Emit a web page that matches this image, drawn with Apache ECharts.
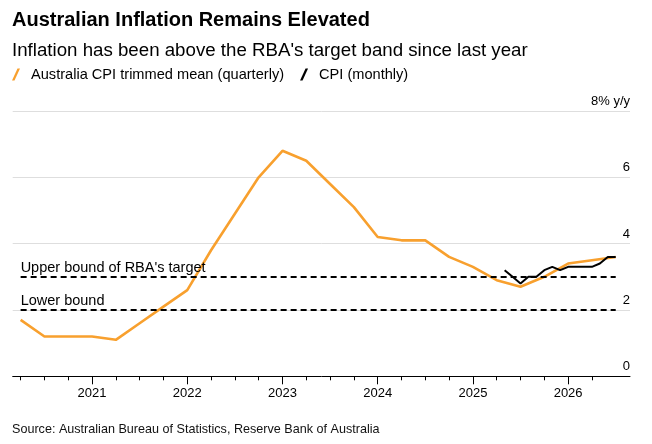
<!DOCTYPE html>
<html>
<head>
<meta charset="utf-8">
<title>Australian Inflation Remains Elevated</title>
<script src="https://cdn.jsdelivr.net/npm/echarts@6/dist/echarts.min.js"></script>
<style>
    html, body { margin: 0; padding: 0; background: #fff; }
    #chart { width: 652px; height: 444px; }
</style>
</head>
<body>
<div id="chart"></div>
<script>
    // x is counted in months since Jan 2020; quarterly points sit on the quarter end
    var trimmedMeanStart = 3;     // end of Q1 2020
    var trimmedMean = [1.7, 1.2, 1.2, 1.2, 1.1, 1.6, 2.1, 2.6, 3.8, 4.9, 6.0, 6.8, 6.5,
                       5.8, 5.1, 4.2, 4.1, 4.1, 3.6, 3.3, 2.9, 2.7, 3.0, 3.4, 3.5, 3.6];
    var cpiMonthlyStart = 64;     // end of Apr 2025
    var cpiMonthly = [3.2, 3.0, 2.8, 3.0, 3.0, 3.2, 3.3, 3.2, 3.3, 3.3, 3.3, 3.3, 3.4, 3.6, 3.6];
    var years = [2021, 2022, 2023, 2024, 2025, 2026];
    var upperBound = 3;
    var lowerBound = 2;
    var yMax = 8;

    var FONT = '"Liberation Sans", Arial, sans-serif';
    var ORANGE = '#f8a02e';

    var quarterData = trimmedMean.map(function (v, i) { return [trimmedMeanStart + i * 3, v]; });
    var monthData = cpiMonthly.map(function (v, i) { return [cpiMonthlyStart + i, v]; });
    var firstX = quarterData[0][0];
    var lastX = quarterData[quarterData.length - 1][0];

    var quarterTicks = [];
    for (var q = firstX; q < lastX; q += 3) quarterTicks.push(q);
    var yearTicks = years.map(function (y) { return (y - 2020) * 12; });

    var option = {
        animation: false,
        textStyle: { fontFamily: FONT },
        title: [
            { text: 'Australian Inflation Remains Elevated', left: 12, top: 10, padding: 0,
              textStyle: { fontFamily: FONT, fontSize: 20, fontWeight: 'bold', color: '#000' } },
            { text: "Inflation has been above the RBA's target band since last year", left: 12, top: 41, padding: 0,
              textStyle: { fontFamily: FONT, fontSize: 18.7, fontWeight: 'normal', color: '#000' } },
            { text: 'Source: Australian Bureau of Statistics, Reserve Bank of Australia', left: 12, top: 423, padding: 0,
              textStyle: { fontFamily: FONT, fontSize: 12.6, fontWeight: 'normal', color: '#111' } }
        ],
        legend: {
            left: 12,
            top: 67,
            padding: 0,
            itemWidth: 8,
            itemHeight: 13,
            itemGap: 16,
            textStyle: { fontFamily: FONT, fontSize: 14.6, color: '#000', padding: [0, 0, 0, 6] },
            data: [
                { name: 'Australia CPI trimmed mean (quarterly)', icon: 'path://M0,12 L5.5,0 L8,0 L2.5,12 Z' },
                { name: 'CPI (monthly)', icon: 'path://M0,12 L5.5,0 L8,0 L2.5,12 Z' }
            ]
        },
        grid: {
            left: 12.7,
            right: 22,
            top: 111,
            bottom: 67.7
        },
        xAxis: [
            {
                type: 'value',
                min: 2,
                max: 79.8,
                axisLine: { show: true, lineStyle: { color: '#000', width: 1 } },
                axisTick: { show: true, length: 4, customValues: quarterTicks, lineStyle: { color: '#000' } },
                axisLabel: { show: false },
                splitLine: { show: false }
            },
            {
                type: 'value',
                min: 2,
                max: 79.8,
                position: 'bottom',
                axisLine: { show: false },
                axisTick: { show: true, length: 8, customValues: yearTicks, lineStyle: { color: '#000' } },
                axisLabel: {
                    show: true,
                    customValues: yearTicks,
                    margin: 11,
                    fontFamily: FONT,
                    fontSize: 13,
                    color: '#000',
                    formatter: function (v) { return String(2020 + v / 12); }
                },
                splitLine: { show: false }
            }
        ],
        yAxis: {
            type: 'value',
            position: 'right',
            min: 0,
            max: yMax,
            interval: 2,
            axisLine: { show: false },
            axisTick: { show: false },
            splitLine: { show: true, showMinLine: false, lineStyle: { color: '#dedede', width: 1 } },
            axisLabel: {
                inside: true,
                margin: 0,
                verticalAlign: 'bottom',
                padding: [0, 0, 3, 0],
                fontFamily: FONT,
                fontSize: 13,
                color: '#000',
                formatter: function (v) { return v === yMax ? v + '% y/y' : String(v); }
            }
        },
        series: [
            {
                name: 'target band',
                type: 'line',
                z: 1,
                data: [],
                markLine: {
                    silent: true,
                    symbol: ['none', 'none'],
                    lineStyle: { color: '#000', type: [6, 4], width: 2 },
                    label: {
                        show: true,
                        position: 'insideStartTop',
                        distance: [0, 1],
                        formatter: '{b}',
                        fontFamily: FONT,
                        fontSize: 14.5,
                        color: '#000'
                    },
                    data: [
                        [{ name: "Upper bound of RBA's target", coord: [firstX, upperBound] }, { coord: [lastX, upperBound] }],
                        [{ name: 'Lower bound', coord: [firstX, lowerBound] }, { coord: [lastX, lowerBound] }]
                    ]
                }
            },
            {
                name: 'Australia CPI trimmed mean (quarterly)',
                type: 'line',
                z: 3,
                symbol: 'none',
                data: quarterData,
                itemStyle: { color: ORANGE },
                lineStyle: { color: ORANGE, width: 2.6 }
            },
            {
                name: 'CPI (monthly)',
                type: 'line',
                z: 4,
                symbol: 'none',
                data: monthData,
                itemStyle: { color: '#000' },
                lineStyle: { color: '#000', width: 2 }
            }
        ]
    };

    var myChart = echarts.init(document.getElementById('chart'));
    myChart.setOption(option);
</script>
</body>
</html>
